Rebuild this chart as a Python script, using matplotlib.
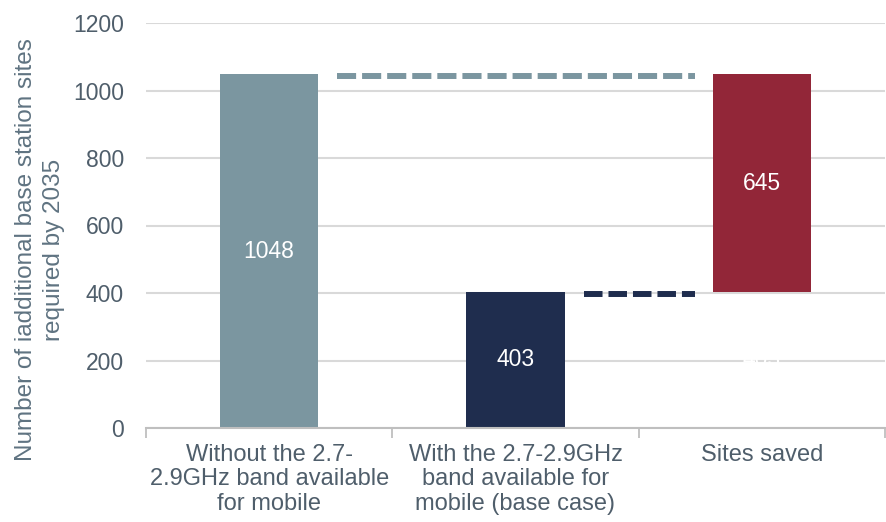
import matplotlib
matplotlib.use("Agg")
import matplotlib.pyplot as plt
import numpy as np

plt.rcParams["font.family"] = ["Liberation Sans", "DejaVu Sans"]

categories = ["Without the 2.7-\n2.9GHz band available\nfor mobile",
              "With the 2.7-2.9GHz\nband available for\nmobile (base case)",
              "Sites saved"]
without_band = 1048
with_band = 403
sites_saved = without_band - with_band   # 645

GREY = "#7b96a0"
NAVY = "#1f2d4e"
RED = "#922638"
TXT = "#4f5e6b"

fig = plt.figure(figsize=(8.87, 5.22), dpi=100)
ax = fig.add_axes([146/887, 94/522, 739/887, 405/522])

x = np.arange(len(categories))
w = 0.40
ax.bar(x[0], without_band, w, color=GREY, zorder=2)
ax.bar(x[1], with_band, w, color=NAVY, zorder=2)
ax.bar(x[2], sites_saved, w, bottom=with_band, color=RED, zorder=2)

# connector dashes between bars
gap = 0.077
ax.plot([x[0]+w/2+gap, x[2]-w/2-0.07], [without_band-5, without_band-5],
        color=GREY, lw=4.3, dashes=(3.2, 1.0), dash_capstyle="butt", zorder=3)
ax.plot([x[1]+w/2+gap, x[2]-w/2-0.07], [with_band-6, with_band-6],
        color=NAVY, lw=4.3, dashes=(3.1, 1.0), dash_capstyle="butt", zorder=3)

# value labels
ax.text(x[0], without_band/2, str(without_band), ha="center", va="center",
        color="white", fontsize=16.5, zorder=4)
ax.text(x[1], with_band/2, str(with_band), ha="center", va="center",
        color="white", fontsize=16.5, zorder=4)
ax.text(x[2], with_band + sites_saved/2, str(sites_saved), ha="center",
        va="center", color="white", fontsize=16.5, zorder=4)
# invisible base of the floating bar
ax.text(x[2], with_band/2, str(with_band), ha="center", va="center",
        color="white", fontsize=16.5, zorder=4)

ax.set_xlim(-0.5, 2.5)
ax.set_ylim(0, 1200)
ax.set_yticks(np.arange(0, 1201, 200))
ax.yaxis.grid(True, color="#d9d9d9", lw=1.5, zorder=0)
ax.set_axisbelow(True)
ax.tick_params(axis="y", length=0, pad=16, labelsize=16.5, labelcolor=TXT)

ax.set_xticks(x)
ax.set_xticklabels(categories, fontsize=17, color=TXT, linespacing=1.14)
ax.tick_params(axis="x", which="major", length=0, pad=11.5)
ax.set_xticks([-0.5, 0.5, 1.5, 2.5], minor=True)
ax.tick_params(axis="x", which="minor", length=7, width=1.3, color="#bfbfbf")

for s in ("top", "right", "left"):
    ax.spines[s].set_visible(False)
ax.spines["bottom"].set_color("#bfbfbf")
ax.spines["bottom"].set_linewidth(1.5)

ax.set_ylabel("Number of iadditional base station sites\nrequired by 2035",
              fontsize=17.5, color="#5f7381", linespacing=1.32)
ax.yaxis.set_label_coords(-0.11, 0.44)

fig.savefig("out.png", dpi=100)
